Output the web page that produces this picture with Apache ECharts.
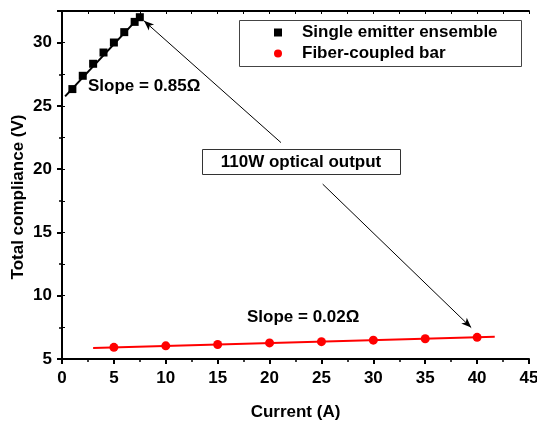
<!DOCTYPE html>
<html>
<head>
<meta charset="utf-8">
<script src="https://cdn.jsdelivr.net/npm/echarts@6/dist/echarts.min.js"></script>
<style>
html, body { margin: 0; padding: 0; background: #fff; }
#chart { width: 537px; height: 422px; }
</style>
</head>
<body>
<div id="chart"></div>
<script>
// values
const emitterCurrent = [1, 2, 3, 4, 5, 6, 7, 7.5]
const emitterVoltage = [26.33, 27.38, 28.33, 29.22, 30.01, 30.83, 31.64, 32.01]
const barCurrent = [5, 10, 15, 20, 25, 30, 35, 40]
const barVoltage = [5.92, 6.04, 6.15, 6.27, 6.37, 6.49, 6.6, 6.71]
const emitterFit = [[0.3, 25.75], [7.6, 32.15]]
const barFit = [[3.0, 5.87], [41.7, 6.76]]
const xTicks = [0, 5, 10, 15, 20, 25, 30, 35, 40, 45]
const yTicks = [5, 10, 15, 20, 25, 30]

const FONT = 'Arial, "Liberation Sans", sans-serif'
const labelFont = { fontFamily: FONT, fontWeight: 'bold', fontSize: 17, color: '#000' }

const chart = echarts.init(document.getElementById('chart'))

const option = {
	animation: false,
	backgroundColor: '#fff',
	grid: { left: 62, right: 8, top: 11, bottom: 63, outerBoundsMode: 'none' },
	legend: {
		data: ['Single emitter ensemble', 'Fiber-coupled bar'],
		orient: 'vertical',
		left: 274,
		top: 24,
		padding: 0,
		itemWidth: 8,
		itemHeight: 8,
		itemGap: 4,
		textStyle: Object.assign({ padding: [0, 0, 0, 15] }, labelFont),
	},
	xAxis: [
		{
			type: 'value',
			min: xTicks[0],
			max: xTicks[xTicks.length - 1],
			interval: 5,
			axisLine: { lineStyle: { color: '#000', width: 2 } },
			axisTick: { length: 5, lineStyle: { color: '#000', width: 2 } },
			minorTick: { show: true, splitNumber: 2, length: 3, lineStyle: { color: '#000', width: 1.5 } },
			axisLabel: Object.assign({ margin: 11 }, labelFont),
			splitLine: { show: false },
			name: 'Current (A)',
			nameLocation: 'middle',
			nameGap: 45,
			nameTextStyle: labelFont,
		},
		{
			type: 'value',
			position: 'top',
			min: xTicks[0],
			max: xTicks[xTicks.length - 1],
			interval: 2.5,
			axisLine: { lineStyle: { color: '#000', width: 2 } },
			axisTick: { inside: true, length: 3, lineStyle: { color: '#000', width: 1 } },
			axisLabel: { show: false },
			splitLine: { show: false },
		},
	],
	yAxis: [
		{
			type: 'value',
			min: yTicks[0],
			max: 32.5,
			interval: 5,
			axisLine: { show: true, lineStyle: { color: '#000', width: 2 } },
			axisTick: { show: true, length: 5, lineStyle: { color: '#000', width: 2 } },
			minorTick: { show: true, splitNumber: 2, length: 3, lineStyle: { color: '#000', width: 1.5 } },
			axisLabel: Object.assign({ margin: 10, showMaxLabel: false }, labelFont),
			splitLine: { show: false },
		},
		{
			type: 'value',
			position: 'right',
			min: yTicks[0],
			max: 32.5,
			interval: 2.5,
			axisLine: { show: true, lineStyle: { color: '#000', width: 2 } },
			axisTick: { show: true, length: 3, lineStyle: { color: '#000', width: 1 } },
			axisLabel: { show: false },
			splitLine: { show: false },
		},
	],
	graphic: [
		{
			type: 'rect',
			shape: { x: 239.5, y: 20.5, width: 282, height: 46 },
			style: { fill: 'none', stroke: '#444', lineWidth: 1 },
			z: 10,
		},
		{
			type: 'group',
			z: 10,
			children: [
				{
					type: 'rect',
					shape: { x: 202.5, y: 149.5, width: 198, height: 25 },
					style: { fill: '#fff', stroke: '#333', lineWidth: 1 },
				},
				{
					type: 'text',
					x: 301,
					y: 162,
					style: { text: '110W optical output', fill: '#000', font: 'bold 17px ' + FONT, align: 'center', verticalAlign: 'middle' },
				},
			],
		},
		{
			type: 'text',
			x: 88,
			y: 86,
			z: 10,
			style: { text: 'Slope = 0.85Ω', fill: '#000', font: 'bold 17px ' + FONT, align: 'left', verticalAlign: 'middle' },
		},
		{
			type: 'text',
			x: 247,
			y: 317,
			z: 10,
			style: { text: 'Slope = 0.02Ω', fill: '#000', font: 'bold 17px ' + FONT, align: 'left', verticalAlign: 'middle' },
		},
		{
			type: 'text',
			x: 18,
			y: 197,
			rotation: Math.PI / 2,
			z: 10,
			style: { text: 'Total compliance (V)', fill: '#000', font: 'bold 17px ' + FONT, align: 'center', verticalAlign: 'middle' },
		},
	],
	series: [
		{
			name: 'emitter fit',
			type: 'line',
			data: emitterFit,
			symbol: 'none',
			lineStyle: { color: '#000', width: 2 },
			silent: true,
			z: 2,
			markLine: {
				silent: true,
				symbol: ['none', 'arrow'],
				symbolSize: [6, 10],
				label: { show: false },
				lineStyle: { color: '#000', width: 1, type: 'solid' },
				data: [
					[{ coord: [21.1, 22.1] }, { coord: [7.9, 31.72] }],
					[{ coord: [25.12, 18.82] }, { coord: [39.43, 7.48] }],
				],
			},
		},
		{
			name: 'bar fit',
			type: 'line',
			data: barFit,
			symbol: 'none',
			lineStyle: { color: '#ff0000', width: 2 },
			silent: true,
			z: 2,
		},
		{
			name: 'Single emitter ensemble',
			type: 'scatter',
			data: emitterCurrent.map((x, i) => [x, emitterVoltage[i]]),
			symbol: 'rect',
			symbolSize: 8,
			itemStyle: { color: '#000', opacity: 1 },
			z: 3,
		},
		{
			name: 'Fiber-coupled bar',
			type: 'scatter',
			data: barCurrent.map((x, i) => [x, barVoltage[i]]),
			symbol: 'circle',
			symbolSize: 9,
			itemStyle: { color: '#ff0000', opacity: 1 },
			z: 3,
		},
	],
}

chart.setOption(option)
</script>
</body>
</html>
